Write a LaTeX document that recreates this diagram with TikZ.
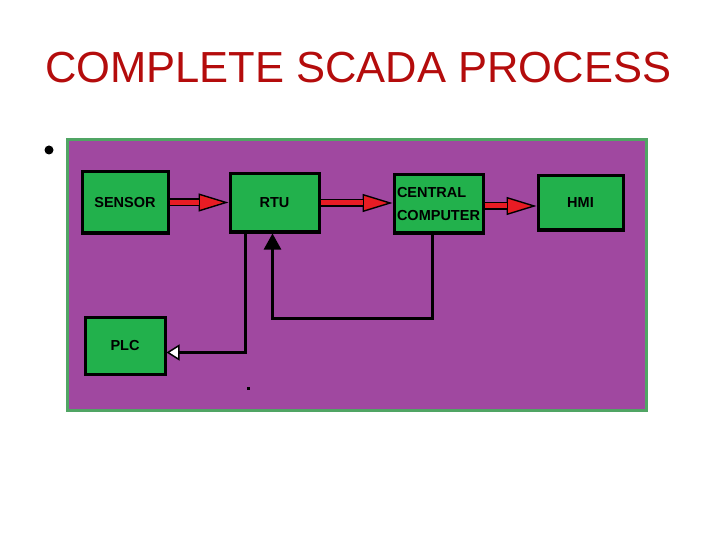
\documentclass[tikz,border=0pt]{standalone}
\usepackage{fontspec}
\setmainfont{Liberation Sans}
\usetikzlibrary{arrows.meta,calc}
\definecolor{titlecolor}{RGB}{180,12,12}
\definecolor{panelcolor}{RGB}{160,72,160}
\definecolor{panelborder}{RGB}{80,165,100}
\definecolor{boxcolor}{RGB}{34,177,76}
\definecolor{flowcolor}{RGB}{232,28,36}
\tikzset{
  unit/.style={draw=black, line width=3pt, fill=boxcolor, inner sep=2pt,
    font=\bfseries\fontsize{14.5}{23}\selectfont},
  flowline/.style={draw=black, line width=8pt,
    -{Triangle[length=30pt,width=18pt,line width=1.4pt,fill=flowcolor]}},
  flowfill/.style={draw=flowcolor, line width=5pt, shorten >=30pt},
  backline/.style={draw=black, line width=2.5pt}
}

\begin{document}
\begin{tikzpicture}[x=1pt,y=-1pt]
        \useasboundingbox (0,0) rectangle (720,540);
        % Title
        \node[titlecolor, anchor=base west, inner sep=0pt, font=\fontsize{43.5}{50}\selectfont]
          (title) at (45,83) {COMPLETE SCADA PROCESS};
        % Bullet and panel
        \fill (49,150) circle (4.5);
        \filldraw[fill=panelcolor, draw=panelborder, line width=3pt] (67,140) rectangle (646,410);
        % Units
        \node[unit, minimum width=86pt, minimum height=61pt] (sensor) at (125,202.5) {SENSOR};
        \node[unit, minimum width=89pt, minimum height=58pt] (rtu) at (274.5,203) {RTU};
        \node[unit, minimum width=89pt, minimum height=58pt, align=left] (central) at (438.5,204)
          {CENTRAL\\COMPUTER};
        \node[unit, minimum width=85pt, minimum height=54pt] (hmi) at (580.5,203) {HMI};
        \node[unit, minimum width=80pt, minimum height=57pt] (plc) at (125,345.5) {PLC};
        % Red flow arrows
        \draw[flowline] (sensor.east) -- (sensor.east -| rtu.west);
        \draw[flowfill] (sensor.east) -- (sensor.east -| rtu.west);
        \draw[flowline] (rtu.east) -- (rtu.east -| central.west);
        \draw[flowfill] (rtu.east) -- (rtu.east -| central.west);
        \draw[flowline] ([yshift=-2pt]central.east) -- ([yshift=-2pt]central.east -| hmi.west);
        \draw[flowfill] ([yshift=-2pt]central.east) -- ([yshift=-2pt]central.east -| hmi.west);
        % RTU down to PLC
        \draw[backline, -{Triangle[length=13pt,width=16pt,line width=1.5pt,fill=white]}]
          ([xshift=17pt]rtu.south west) |- ([yshift=-7pt]plc.east);
        % Central computer back to RTU
        \draw[backline, -{Triangle[length=16pt,width=17pt]}]
          ([xshift=-6pt]central.south) -- ++(0,84) -| ([xshift=-2pt]rtu.south);
        % Stray dot
        \fill (246.5,386.5) rectangle (249.5,389.5);
      \end{tikzpicture}
\end{document}
